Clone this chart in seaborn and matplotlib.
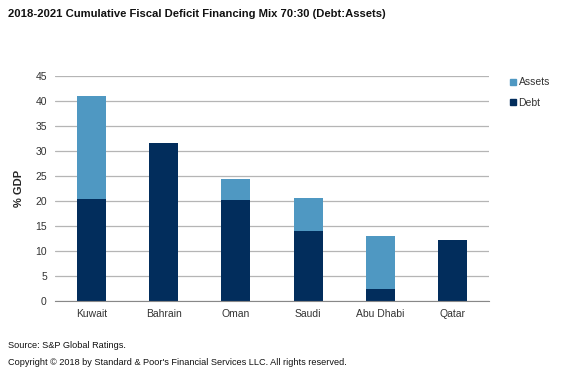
import numpy as np
import pandas as pd
import matplotlib
matplotlib.use("Agg")
import matplotlib.pyplot as plt
import seaborn as sns
from matplotlib.lines import Line2D

# Data (% of GDP)
countries = ["Kuwait", "Bahrain", "Oman", "Saudi", "Abu Dhabi", "Qatar"]
debt = [20.5, 31.7, 20.2, 14.0, 2.5, 12.2]
assets = [20.6, 0.0, 4.2, 6.7, 10.6, 0.0]

debt_color = "#022d5c"
assets_color = "#4f98c2"

df = pd.DataFrame({"country": countries, "debt": debt, "assets": assets})
df["total"] = df["debt"] + df["assets"]

sns.set_style("white")
plt.rcParams["font.family"] = ["Liberation Sans", "DejaVu Sans"]

fig = plt.figure(figsize=(5.69, 3.69), dpi=100)
ax = fig.add_axes([0.097, 0.184, 0.762, 0.61])

# stacked look: total in light blue, debt drawn over it
sns.barplot(data=df, x="country", y="total", color=assets_color, width=0.4,
            saturation=1, linewidth=0, ax=ax)
sns.barplot(data=df, x="country", y="debt", color=debt_color, width=0.4,
            saturation=1, linewidth=0, ax=ax)

ax.set_ylim(0, 45)
ax.set_yticks(np.arange(0, 46, 5))
ax.set_xlim(-0.5, len(countries) - 0.5)
ax.yaxis.grid(True, color="#b5b5b5", linewidth=0.9)
ax.set_axisbelow(True)
for s in ["top", "right", "left"]:
    ax.spines[s].set_visible(False)
ax.spines["bottom"].set_color("#888888")

ax.set_xlabel("")
ax.set_ylabel("% GDP", fontsize=8, fontweight="bold", labelpad=8)
ax.tick_params(axis="y", length=0, labelsize=7.5, colors="#333333", pad=6)
ax.tick_params(axis="x", which="major", length=0, labelsize=7.5,
               colors="#333333", pad=6)
ax.set_xticks(np.arange(-0.5, len(countries), 1), minor=True)
ax.tick_params(axis="x", which="minor", length=4, color="#888888")

handles = [
    Line2D([], [], marker="s", linestyle="", color=assets_color, markersize=5),
    Line2D([], [], marker="s", linestyle="", color=debt_color, markersize=5),
]
fig.legend(handles, ["Assets", "Debt"], loc="upper left",
           bbox_to_anchor=(0.893, 0.79), frameon=False, fontsize=7.5,
           handletextpad=0.0, handlelength=1.0, borderpad=0, borderaxespad=0,
           labelspacing=1.0, labelcolor="#333333")

fig.text(0.014, 0.955, "2018-2021 Cumulative Fiscal Deficit Financing Mix 70:30 (Debt:Assets)",
         fontsize=8.1, fontweight="bold", color="#111111")
fig.text(0.014, 0.058, "Source: S&P Global Ratings.", fontsize=6.6, color="#111111")
fig.text(0.014, 0.012,
         "Copyright \u00a9 2018 by Standard & Poor's Financial Services LLC. All rights reserved.",
         fontsize=6.6, color="#111111")

fig.savefig("out.png", dpi=100)
